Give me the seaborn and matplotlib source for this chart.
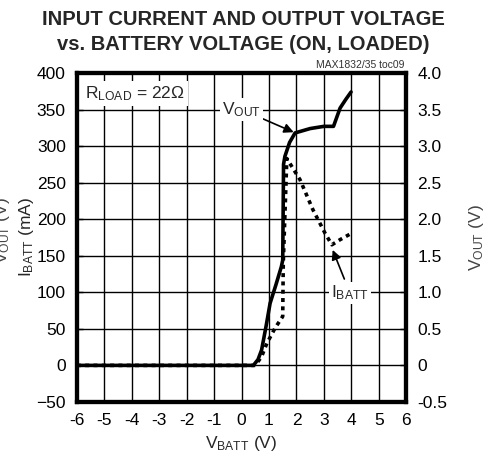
import numpy as np
import pandas as pd
import seaborn as sns
import matplotlib.pyplot as plt
from matplotlib import font_manager

# ==============================================================
# DATA
# ==============================================================
vout_vbatt = [-6.0, 0.0, 0.43, 0.6, 0.73, 0.9, 1.04, 1.25, 1.45, 1.5, 1.53, 1.58, 1.75, 1.95, 2.5, 3.0, 3.35, 3.59, 3.8, 3.99]
vout_volts = [0.0, 0.0, 0.0, 0.08, 0.21, 0.55, 0.85, 1.1, 1.35, 1.44, 2.75, 2.86, 3.05, 3.18, 3.24, 3.27, 3.27, 3.52, 3.64, 3.74]

ibatt_vbatt = [-6.0, 0.0, 0.5, 0.73, 0.92, 1.22, 1.5, 1.52, 1.65, 2.13, 2.6, 3.04, 3.29, 3.59, 4.02]
ibatt_ma = [0.0, 0.0, 0.0, 12, 30, 51, 67, 140, 283, 254, 213, 181, 165, 172, 181]

x_ticks = list(range(-6, 7))
left_ticks = list(range(-50, 401, 50))
right_ticks = [-0.5, 0, 0.5, 1.0, 1.5, 2.0, 2.5, 3.0, 3.5, 4.0]
right_labels = ['-0.5', '0', '0.5', '1.0', '1.5', '2.0', '2.5', '3.0', '3.5', '4.0']

# ==============================================================
# STYLE
# ==============================================================
sns.set_style('white')
names = {f.name for f in font_manager.fontManager.ttflist}
narrow = 'Liberation Sans Narrow' if 'Liberation Sans Narrow' in names else 'Liberation Sans'
plt.rcParams['font.family'] = [narrow, 'DejaVu Sans']
plt.rcParams['mathtext.fontset'] = 'custom'
plt.rcParams['mathtext.rm'] = narrow
plt.rcParams['mathtext.it'] = narrow

fs = 12.5
fig = plt.figure(figsize=(4.96, 4.62), dpi=100)
ax = fig.add_axes([0.155, 0.130, 0.664, 0.712])
ax2 = ax.twinx()

df_i = pd.DataFrame({'vbatt': ibatt_vbatt, 'ibatt': ibatt_ma})
df_v = pd.DataFrame({'vbatt': vout_vbatt, 'vout': vout_volts})

sns.lineplot(data=df_i, x='vbatt', y='ibatt', ax=ax, color='black', lw=2.6,
             linestyle=(0, (1.1, 1.2)), sort=False, estimator=None)
sns.lineplot(data=df_v, x='vbatt', y='vout', ax=ax2, color='black', lw=2.6,
             sort=False, estimator=None)

ax.set_xlim(-6, 6)
ax.set_ylim(-50, 400)
ax2.set_ylim(-0.5, 4.0)
ax.set_xticks(x_ticks)
ax.set_xticklabels([str(t) for t in x_ticks])
ax.set_yticks(left_ticks)
ax2.set_yticks(right_ticks)
ax2.set_yticklabels(right_labels)

ax.grid(True, color='black', lw=1.0)
ax.set_axisbelow(True)
for a in (ax, ax2):
    for s in a.spines.values():
        s.set_linewidth(3)
        s.set_color('black')
    a.tick_params(direction='in', length=4, width=1, labelsize=fs, pad=8, colors='black')

ax.set_xlabel(r'V$_{\mathregular{BATT}}$ (V)', fontsize=fs, labelpad=4)
ax.set_ylabel(r'I$_{\mathregular{BATT}}$ (mA)', fontsize=fs, labelpad=0)
ax2.set_ylabel(r'V$_{\mathregular{OUT}}$ (V)', fontsize=fs, labelpad=14, color='#444444')
ax2.set_xlabel('')
# partly cut-off duplicate label at the left edge, as in the reference
fig.text(0.006, 0.5, r'V$_{\mathregular{OUT}}$ (V)', rotation=90, va='center', ha='center',
         fontsize=fs, color='#444444')

fig.suptitle('INPUT CURRENT AND OUTPUT VOLTAGE\nvs. BATTERY VOLTAGE (ON, LOADED)',
             fontsize=14.5, fontweight='bold', y=0.978, x=0.49, linespacing=1.4)
fig.text(0.815, 0.848, 'MAX1832/35 toc09', fontsize=7.5, ha='right', va='bottom', color='#333333')

ax.text(-5.7, 372, r'R$_{\mathregular{LOAD}}$ = 22$\Omega$', fontsize=fs, va='center',
        bbox=dict(facecolor='white', edgecolor='none', pad=2))

ax.annotate(r'V$_{\mathregular{OUT}}$', xy=(1.9, 319), xytext=(0.0, 350), fontsize=fs,
            va='center', ha='center',
            bbox=dict(facecolor='white', edgecolor='none', pad=1.5),
            arrowprops=dict(arrowstyle='-|>', color='black', lw=1.2, mutation_scale=14,
                        shrinkA=0, shrinkB=0))
ax.annotate(r'I$_{\mathregular{BATT}}$', xy=(3.32, 158), xytext=(3.95, 99), fontsize=fs,
            va='center', ha='center',
            bbox=dict(facecolor='white', edgecolor='none', pad=1.5),
            arrowprops=dict(arrowstyle='-|>', color='black', lw=1.2, mutation_scale=14,
                        shrinkA=2, shrinkB=0))

fig.savefig('out.png', dpi=100)
